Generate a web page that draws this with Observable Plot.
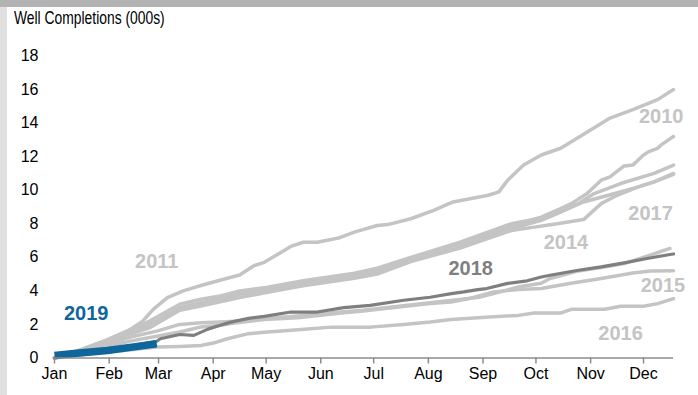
<!DOCTYPE html>
<html>
<head>
<meta charset="utf-8">
<script src="https://cdn.jsdelivr.net/npm/d3@7"></script>
<script src="https://cdn.jsdelivr.net/npm/@observablehq/plot@0.6"></script>
<style>
  html, body { margin: 0; padding: 0; background: #fff; }
  #wrap { position: relative; width: 698px; height: 395px; overflow: hidden; font-family: "Liberation Sans", Arial, sans-serif; }
  #topbar { position: absolute; left: 0; top: 0; width: 698px; height: 7px; background: #b3b3b3; z-index: 3; }
  #leftbar { position: absolute; left: 0; top: 7px; width: 7px; height: 388px; background: #e0e0e0; z-index: 3; }
  #title { position: absolute; left: 14px; top: 9px; font-size: 18px; line-height: 18px; color: #000; white-space: nowrap; transform: scaleX(0.77); transform-origin: left top; z-index: 2; }
  #chart { position: absolute; left: 0; top: 0; }
</style>
</head>
<body>
<div id="wrap">
  <div id="chart"></div>
  <div id="title">Well Completions (000s)</div>
  <div id="topbar"></div>
  <div id="leftbar"></div>
</div>
<script>
// Day-of-year (0 = Jan 1) and cumulative completions (thousands)
const y2010 = [[0,0],[15,0.5],[30,1.1],[43,1.7],[50,2.2],[56,2.9],[64,3.6],[73,4.0],[84,4.35],[98,4.75],[105,4.95],[113,5.5],[119,5.7],[134,6.65],[141,6.9],[149,6.9],[161,7.15],[170,7.5],[183,7.9],[189,7.95],[202,8.3],[215,8.8],[226,9.3],[246,9.7],[252,9.9],[257,10.6],[266,11.5],[276,12.1],[287,12.5],[298,13.2],[315,14.3],[328,14.8],[342,15.4],[351,16.0]];
const y2011 = [[0,0],[15,0.45],[30,1.0],[39,1.4],[54,2.0],[71,3.0],[83,3.3],[94,3.55],[105,3.85],[120,4.1],[141,4.5],[170,4.95],[183,5.25],[202,5.95],[230,6.8],[259,7.85],[276,8.4],[287,8.9],[293,9.2],[302,9.8],[310,10.6],[315,10.8],[323,11.45],[328,11.5],[334,12.1],[337,12.3],[342,12.5],[344,12.7],[351,13.2]];
const y2012 = [[0,0],[15,0.5],[30,1.05],[39,1.5],[54,2.2],[71,3.2],[83,3.5],[94,3.7],[105,4.0],[120,4.2],[141,4.6],[170,5.05],[183,5.35],[202,6.0],[230,6.9],[259,8.0],[276,8.35],[285,8.7],[297,9.2],[306,9.8],[321,10.4],[340,11.0],[351,11.5]];
const y2013 = [[0,0],[15,0.4],[30,0.95],[39,1.35],[54,1.9],[71,2.9],[83,3.15],[94,3.4],[105,3.7],[120,3.95],[141,4.35],[170,4.8],[183,5.1],[202,5.8],[230,6.6],[259,7.7],[276,8.2],[285,8.6],[300,9.3],[314,9.7],[328,10.1],[340,10.5],[351,10.95]];
const y2014 = [[0,0],[15,0.45],[30,0.9],[39,1.3],[54,1.8],[71,2.85],[83,3.1],[94,3.35],[105,3.6],[120,3.9],[141,4.3],[170,4.75],[183,5.0],[202,5.75],[230,6.55],[259,7.6],[272,7.8],[285,8.0],[300,8.25],[310,9.2],[319,9.7],[331,10.2],[340,10.5],[351,11.0]];
const y2015 = [[0,0],[15,0.35],[30,0.7],[45,1.05],[58,1.3],[71,1.55],[83,1.85],[94,1.95],[100,2.05],[119,2.3],[138,2.4],[164,2.7],[175,2.8],[213,3.25],[225,3.34],[235,3.54],[249,3.94],[263,4.08],[276,4.14],[292,4.44],[310,4.74],[328,5.07],[338,5.19],[351,5.2]];
const y2016 = [[0,0],[15,0.2],[30,0.35],[45,0.5],[58,0.65],[71,0.69],[83,0.75],[90,0.89],[98,1.15],[110,1.45],[119,1.54],[138,1.69],[157,1.84],[179,1.84],[198,2.0],[213,2.14],[225,2.3],[240,2.4],[263,2.54],[272,2.68],[287,2.68],[293,2.9],[312,2.9],[321,3.08],[334,3.08],[342,3.24],[351,3.54]];
const y2017 = [[0,0],[15,0.4],[30,0.85],[45,1.3],[58,1.6],[71,2.0],[83,2.1],[94,2.15],[105,2.2],[119,2.35],[138,2.5],[164,2.75],[175,2.85],[213,3.3],[240,3.6],[249,3.84],[263,4.23],[276,4.45],[281,4.74],[297,5.19],[310,5.4],[323,5.63],[336,6.07],[349,6.53]];
const y2018 = [[0,0],[15,0.3],[30,0.55],[45,0.75],[58,1.0],[60,1.15],[71,1.4],[79,1.35],[87,1.72],[94,1.95],[100,2.14],[110,2.36],[119,2.48],[134,2.74],[149,2.74],[164,3.0],[179,3.14],[198,3.44],[213,3.62],[225,3.84],[232,3.94],[240,4.08],[245,4.14],[257,4.45],[268,4.6],[276,4.83],[281,4.93],[297,5.23],[310,5.43],[323,5.67],[336,5.93],[349,6.17],[351,6.2]];
const y2019 = [[0,0.15],[14,0.3],[30,0.45],[44,0.65],[58,0.85]];

const grayYears = [y2010, y2011, y2012, y2013, y2014, y2015, y2016, y2017];

const monthStarts = [0,31,59,90,120,151,181,212,243,273,304,334];
const monthNames = ["Jan","Feb","Mar","Apr","May","Jun","Jul","Aug","Sep","Oct","Nov","Dec"];
const yTicks = [0,2,4,6,8,10,12,14,16,18];

const labelText  = ["2010","2011","2014","2015","2016","2017","2018","2019"];
const labelDay   = [344, 58, 290, 345, 321, 338, 236, 18];
const labelValue = [14.4, 5.73, 6.87, 4.34, 1.48, 8.62, 5.33, 2.64];
const labelColor = ["#c4c4c4","#c4c4c4","#c4c4c4","#c4c4c4","#c4c4c4","#c4c4c4","#7f7f7f","#0e669b"];

const labels = labelText.map((t, i) => ({t, x: labelDay[i], y: labelValue[i], c: labelColor[i]}));

const grayMarks = grayYears.map(s => Plot.line(s, {x: d => d[0], y: d => d[1], stroke: "#c4c4c4", strokeWidth: 3.5, strokeLinejoin: "round"}));

const plot = Plot.plot({
  width: 698,
  height: 395,
  marginLeft: 54,
  marginRight: 25,
  marginTop: 55.5,
  marginBottom: 37.5,
  style: {fontFamily: "'Liberation Sans', Arial, sans-serif", fontSize: "16px", color: "#000", background: "transparent"},
  x: {domain: [0, 351]},
  y: {domain: [0, 18]},
  color: {type: "identity"},
  marks: [
    ...grayMarks,
    Plot.line(y2018, {x: d => d[0], y: d => d[1], stroke: "#7f7f7f", strokeWidth: 3.2, strokeLinejoin: "round"}),
    Plot.line(y2019, {x: d => d[0], y: d => d[1], stroke: "#0e669b", strokeWidth: 7.5, strokeLinejoin: "round", strokeLinecap: "butt"}),
    Plot.ruleY([0], {stroke: "#8c8c8c", strokeWidth: 1.5}),
    Plot.axisY({ticks: yTicks, tickSize: 0, tickPadding: 16, fontSize: 16, label: null}),
    Plot.axisX({ticks: monthStarts, tickFormat: (d) => monthNames[monthStarts.indexOf(d)], tickSize: 6, tickPadding: 4, fontSize: 16, stroke: "#8c8c8c", strokeWidth: 1.5, label: null}),
    Plot.text(labels, {x: "x", y: "y", text: "t", fill: "c", fontSize: 20, fontWeight: "bold", textAnchor: "middle"})
  ]
});
document.getElementById("chart").appendChild(plot);
</script>
</body>
</html>
